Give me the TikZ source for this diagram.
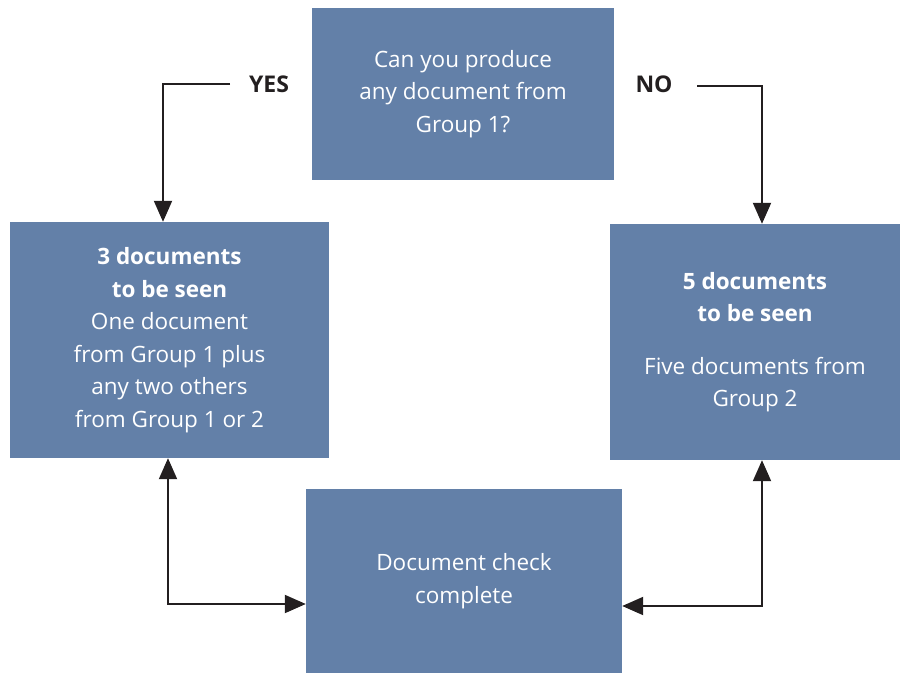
\documentclass[tikz,border=0pt]{standalone}
\usepackage{fontspec}
\setmainfont{Open Sans}
\usetikzlibrary{arrows.meta,calc}
\definecolor{boxblue}{RGB}{99,128,168}
\definecolor{linegray}{RGB}{35,31,32}
\begin{document}
\begin{tikzpicture}[x=1pt,y=-1pt,
  box/.style={fill=boxblue,draw=none,inner sep=0pt,text=white,align=center,
    font=\fontsize{22.5}{32.5}\selectfont},
  lbl/.style={inner sep=0pt,text=linegray,font=\fontsize{23}{26}\selectfont\bfseries},
  arr/.style={draw=linegray,line width=2pt,-{Triangle[width=18pt,length=21pt]}},
  darr/.style={draw=linegray,line width=2pt,{Triangle[width=18pt,length=21pt]}-{Triangle[width=18pt,length=21pt]}}]
\useasboundingbox (0,0) rectangle (900,675);
\node[box,minimum width=302pt,minimum height=172pt] (top) at (463,94)
  {Can you produce\\any document from\\Group 1?};
\node[box,minimum width=319pt,minimum height=236pt] (left) at (169.5,340)
  {\textbf{3 documents}\\\textbf{to be seen}\\One document\\from Group 1 plus\\any two others\\from Group 1 or 2};
\node[box,minimum width=290pt,minimum height=236pt] (right) at (755,342)
  {\textbf{5 documents}\\\textbf{to be seen}\\[20pt]Five documents from\\Group 2};
\node[box,minimum width=316pt,minimum height=184pt] (bottom) at (464,581)
  {Document check\\complete};
\node[lbl] (yes) at (269,84) {YES};
\node[lbl] (no) at (654,84) {NO};
\coordinate (yesend) at (230,84);
\coordinate (noend) at (697,86);
\draw[arr] (yesend) -| ($(left.north)+(-6.5,0)$);
\draw[arr] (noend) -| ($(right.north)+(7,0)$);
\draw[darr] ($(left.south)+(-1.5,0)$) |- ($(bottom.west)+(0,23)$);
\draw[darr] ($(right.south)+(7,0)$) |- ($(bottom.east)+(0,25)$);
\end{tikzpicture}
\end{document}
